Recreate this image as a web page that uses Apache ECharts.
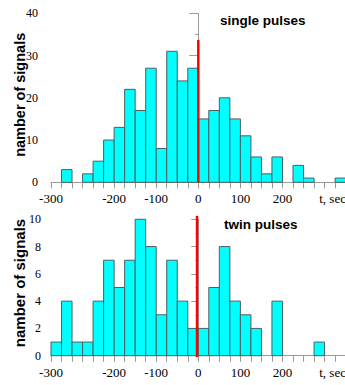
<!DOCTYPE html>
<html>
<head>
<meta charset="utf-8">
<script src="https://cdn.jsdelivr.net/npm/echarts@6/dist/echarts.min.js"></script>
<style>
html,body{margin:0;padding:0;background:#fff;}
#chart{width:345px;height:385px;}
</style>
</head>
<body>
<div id="chart"></div>
<script>
// 25-second bins (start, end)
const binStarts = [-350,-325,-300,-275,-250,-225,-200,-175,-150,-125,-100,-75,-50,-25,0,25,50,75,100,125,150,175,200,225,250,275,300,325];
const binEnds   = [-325,-300,-275,-250,-225,-200,-175,-150,-125,-100,-75,-50,-25,0,25,50,75,100,125,150,175,200,225,250,275,300,325,350];
const singleCounts = [0,3,0,2,5,10,13,22,17,27,8,31,24,27,15,17,20,15,11,6,2,6,0,4,1,0,0,1];
const twinCounts   = [1,4,1,1,4,7,5,7,10,8,3,7,4,2,2,5,8,4,3,2,0,4,0,0,0,1,0,0];
// red marker lines [t, count]
const singleMarker = [[0,0],[0,33.7]];
const twinMarker   = [[-3,-0.1],[-3,10.25]];
// tick labels along t
const xLabelValues = [-350,-200,-100,0,100,200,325];
const xLabelTexts  = ['-300','-200','-100','0','100','200','t, sec'];
const titles = ['single pulses','twin pulses'];
const yName = 'namber of signals';

function histData(counts){
  return counts.map((c,i)=>[binStarts[i], binEnds[i], c]);
}
function renderBar(params, api){
  const c = api.value(2);
  if (!c) return null;
  const p0 = api.coord([api.value(0), c]);
  const p1 = api.coord([api.value(1), 0]);
  return {
    type:'rect',
    shape:{x:p0[0], y:p0[1], width:p1[0]-p0[0], height:p1[1]-p0[1]},
    style:{fill:'#00ffff', stroke:'#4d5f5f', lineWidth:1}
  };
}
const axisGray = '#9a9a9a';
function xAxisCfg(gridIndex){
  return {
    type:'value', gridIndex, min:-350, max:350, interval:25,
    axisLine:{show:true, onZero:false, lineStyle:{color:axisGray, width:1}},
    axisTick:{show:true, length:6, lineStyle:{color:axisGray}},
    splitLine:{show:false},
    axisLabel:{
      show:true, interval:0, hideOverlap:false, showMinLabel:true, showMaxLabel:true,
      margin:10, color:'#000', fontFamily:'Liberation Serif', fontSize:13,
      formatter:function(v){
        const k = xLabelValues.indexOf(Math.round(v));
        if (k < 0) return '';
        if (xLabelTexts[k] === 't, sec') return '{u|' + xLabelTexts[k] + '}';
        return xLabelTexts[k];
      },
      rich:{u:{fontFamily:'Liberation Serif', fontSize:13, color:'#000', padding:[0,5,0,0]}}
    }
  };
}
function yAxisCfg(gridIndex, max, interval, tickLen, margin, nameGap, nameSize, namePad){
  return {
    type:'value', gridIndex, min:0, max, interval,
    name:yName, nameLocation:'middle', nameGap, nameRotate:90, nameMoveOverlap:false,
    nameTextStyle:{fontFamily:'Liberation Sans', fontWeight:'bold', fontSize:nameSize, color:'#000',
                   padding:[0,0,0,namePad]},
    axisLine:{show:true, lineStyle:{color:axisGray, width:1}},
    axisTick:{show:true, length:tickLen, lineStyle:{color:axisGray}},
    minorTick:{show:true, splitNumber:2, length:3, lineStyle:{color:axisGray}},
    splitLine:{show:false},
    axisLabel:{margin, color:'#000', fontFamily:'Liberation Serif', fontSize:12}
  };
}

const chart = echarts.init(document.getElementById('chart'), null, {renderer:'svg'});
chart.setOption({
  animation:false,
  backgroundColor:'#fff',
  title:[
    {text:titles[0], left:220, top:13, padding:0,
     textStyle:{fontFamily:'Liberation Sans', fontWeight:'bold', fontSize:13.5, color:'#000'}},
    {text:titles[1], left:224, top:217, padding:0,
     textStyle:{fontFamily:'Liberation Sans', fontWeight:'bold', fontSize:13.5, color:'#000'}}
  ],
  grid:[
    {left:51, top:13.3, width:294.6, height:169, outerBoundsMode:'none', containLabel:false},
    {left:51, top:219.3, width:294.6, height:136.4, outerBoundsMode:'none', containLabel:false}
  ],
  xAxis:[xAxisCfg(0), xAxisCfg(1)],
  yAxis:[yAxisCfg(0, 40, 10, 9, 13, 24, 14.5, 6), yAxisCfg(1, 10, 2, 7, 10, 24, 15, 9)],
  series:[
    {type:'custom', xAxisIndex:0, yAxisIndex:0, data:histData(singleCounts),
     renderItem:renderBar, encode:{x:[0,1], y:2}, clip:false},
    {type:'custom', xAxisIndex:1, yAxisIndex:1, data:histData(twinCounts),
     renderItem:renderBar, encode:{x:[0,1], y:2}, clip:false},
    {type:'line', xAxisIndex:0, yAxisIndex:0, data:singleMarker, symbol:'none', clip:false, z:5,
     lineStyle:{color:'#ff0000', width:2.5}},
    {type:'line', xAxisIndex:1, yAxisIndex:1, data:twinMarker, symbol:'none', clip:false, z:5,
     lineStyle:{color:'#ff0000', width:2.5}}
  ]
});
</script>
</body>
</html>
